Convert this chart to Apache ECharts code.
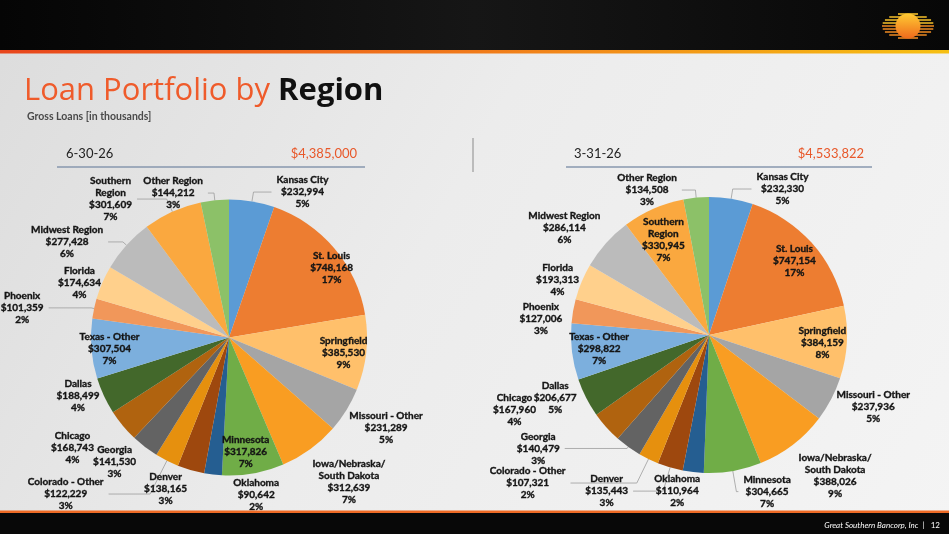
<!DOCTYPE html>
<html><head><meta charset="utf-8">
<script src="https://cdn.jsdelivr.net/npm/echarts@6/dist/echarts.min.js"></script>
<style>html,body{margin:0;padding:0;width:949px;height:534px;overflow:hidden}#c{width:949px;height:534px}</style>
</head><body><div id="c"></div>
<script>
// ---- data ----
const categories = ['Kansas City','St. Louis','Springfield','Missouri - Other','Iowa/Nebraska/South Dakota','Minnesota','Oklahoma','Denver','Colorado - Other','Georgia','Chicago','Dallas','Texas - Other','Phoenix','Florida','Midwest Region','Southern Region','Other Region'];
const loansJun26 = [232994,748168,385530,231289,312639,317826,90642,138165,122229,141530,168743,188499,307504,101359,174634,277428,301609,144212];
const loansMar26 = [232330,747154,384159,237936,388026,304665,110964,135443,107321,140479,167960,206677,298822,127006,193313,286114,330945,134508];
const pctJun26 = [5,17,9,5,7,7,2,3,3,3,4,4,7,2,4,6,7,3];
const pctMar26 = [5,17,8,5,9,7,2,3,2,3,4,5,7,3,4,6,7,3];
const periods = ['6-30-26','3-31-26'];

// ---- styles ----
const sliceColors = ['#5B9BD5','#ED7D31','#FFC06B','#A5A5A5','#F99D22','#70AD47','#255E91','#9E480E','#E6900E','#636363','#B0630F','#43682B','#7CAFDD','#F1975A','#FFD08C','#BBBBBB','#FAA83F','#8CC168'];
const labelWrap = {'Iowa/Nebraska/South Dakota':'Iowa/Nebraska/\nSouth Dakota','Southern Region':'Southern\nRegion'};
// label guide per slice: [length, length2, show line]
const guideJun = [[9.5,18,1],[-30.5,-6,0],[0.5,-52,0],[34,-31,0],[40.7,-26.5,0],[-21.7,-32.4,0],[20.6,-73.5,0],[19.7,-6.7,0],[37.3,41.5,1],[19.2,-7.9,0],[34.9,-3,0],[0.5,-1,0],[0.5,-53.5,0],[3,42.5,1],[0.5,-4,0],[4.8,14.8,1],[13.8,29.7,1],[7.2,6.1,1]];
const guideMar = [[9.9,18.8,1],[-27.2,-23.5,0],[0.5,-53.8,0],[16.8,-14.5,0],[39.4,-23.2,0],[21,2,1],[19.1,-14.1,0],[24.7,30.1,1],[26.7,66.3,1],[2,62.3,1],[-25.5,84.3,0],[0.5,4,0],[-23,-39.2,0],[-45,50,0],[5.2,-7.2,0],[22.9,-16.6,0],[-34.2,-22.8,0],[7.6,13.6,1]];

const FONT = 'Lato, "Open Sans", "DejaVu Sans", sans-serif';
const TFONT = '"Open Sans", Lato, "DejaVu Sans", sans-serif';
const fmt = n => n.toLocaleString('en-US');
const sum = a => a.reduce((s, v) => s + v, 0);

function pieSeries(values, pcts, guides, center) {
  return {
    type: 'pie', center: center, radius: 138, startAngle: 90, clockwise: true,
    avoidLabelOverlap: false, silent: true, animation: false, z: 5,
    itemStyle: { borderWidth: 0 },
    emphasis: { disabled: true },
    labelLayout: { hideOverlap: false, moveOverlap: null },
    label: {
      show: true, position: 'outside', alignTo: 'none', distanceToLabelLine: 5, overflow: 'none',
      formatter: function (p) {
        const nm = labelWrap[p.name] || p.name;
        const lines = nm.split('\n').concat(['$' + fmt(p.value), pcts[p.dataIndex] + '%']);
        return lines.map(l => '{c|' + l + '}').join('\n');
      },
      rich: { c: { align: 'center', fontSize: 10, fontWeight: 'bold', fontFamily: FONT, color: '#141414',
        textBorderColor: '#141414', textBorderWidth: 0.35, lineHeight: 12 } }
    },
    labelLine: { show: true, smooth: false, lineStyle: { color: '#9d9d9d', width: 0.8 } },
    data: categories.map((name, i) => ({
      name: name, value: values[i], itemStyle: { color: sliceColors[i] },
      labelLine: { show: !!guides[i][2], length: guides[i][0], length2: guides[i][1] }
    }))
  };
}

// logo stripes
const logo = [];
const lcx = 908, lcy = 26, la = 26, lb = 13;
for (let y = lcy - 12; y <= lcy + 12; y += 3) {
  const dy = y - lcy;
  const hw = la * Math.sqrt(Math.max(0, 1 - (dy / lb) * (dy / lb)));
  const t = (y - (lcy - 12)) / 24;
  logo.push({ type: 'rect', shape: { x: lcx - hw, y: y - 0.8, width: hw * 2, height: 1.6 },
    style: { fill: t < 0.5 ? '#F6C02A' : '#EE8A22' }, z: 60 });
}
logo.push({ type: 'circle', shape: { cx: lcx, cy: lcy, r: 12.5 }, z: 61,
  style: { fill: { type: 'linear', x: 0, y: 0, x2: 0, y2: 1, colorStops: [{ offset: 0, color: '#FFCB33' }, { offset: 1, color: '#EF6A1C' }] } } });

const option = {
  backgroundColor: { type: 'linear', x: 0, y: 0, x2: 1, y2: 1, colorStops: [
    { offset: 0, color: '#dcdcdc' }, { offset: 0.45, color: '#ececec' }, { offset: 1, color: '#f4f4f4' }] },
  animation: false,
  graphic: [
    { type: 'rect', shape: { x: 0, y: 0, width: 949, height: 51 }, z: 50,
      style: { fill: { type: 'linear', x: 0, y: 0, x2: 1, y2: 0, colorStops: [{ offset: 0, color: '#050505' }, { offset: 0.5, color: '#161616' }, { offset: 1, color: '#070707' }] } } },
    { type: 'rect', shape: { x: 0, y: 50, width: 949, height: 3.5 }, z: 51,
      style: { fill: { type: 'linear', x: 0, y: 0, x2: 1, y2: 0, colorStops: [{ offset: 0, color: '#E8461C' }, { offset: 0.5, color: '#F07A1A' }, { offset: 1, color: '#F6C013' }] } } },
    { type: 'rect', shape: { x: 0, y: 510.5, width: 949, height: 2.5 }, z: 51, style: { fill: '#EE6A25' } },
    { type: 'rect', shape: { x: 0, y: 513, width: 949, height: 21 }, z: 50, style: { fill: '#080808' } },
    { type: 'text', x: 940, y: 525, z: 52, style: { text: '{a|Great Southern Bancorp, Inc}{b|  |   12}', align: 'right', verticalAlign: 'middle',
        rich: { a: { fontStyle: 'italic', fontSize: 8, fontFamily: FONT, fill: '#ffffff' }, b: { fontSize: 8, fontFamily: FONT, fill: '#ffffff' } } } },
    { type: 'text', x: 24, y: 91, z: 52, style: { text: '{a|Loan Portfolio by }{b|Region}', verticalAlign: 'middle',
        rich: { a: { fontSize: 31, fontWeight: 'normal', fontFamily: TFONT, fill: '#EF5B2B' }, b: { fontSize: 31, fontWeight: 'bold', fontFamily: TFONT, fill: '#111111' } } } },
    { type: 'text', x: 27, y: 117, z: 52, style: { text: 'Gross Loans [in thousands]', verticalAlign: 'middle', fontSize: 10.5, fontWeight: 'bold', fontFamily: FONT, fill: '#4a4a4a' } },
    { type: 'text', x: 66, y: 154, z: 52, style: { text: periods[0], verticalAlign: 'middle', fontSize: 13, fontFamily: FONT, fill: '#222222' } },
    { type: 'text', x: 357, y: 154, z: 52, style: { text: '$' + fmt(sum(loansJun26)), align: 'right', verticalAlign: 'middle', fontSize: 13, fontFamily: FONT, fill: '#E8582A' } },
    { type: 'text', x: 574, y: 154, z: 52, style: { text: periods[1], verticalAlign: 'middle', fontSize: 13, fontFamily: FONT, fill: '#222222' } },
    { type: 'text', x: 864, y: 154, z: 52, style: { text: '$' + fmt(sum(loansMar26)), align: 'right', verticalAlign: 'middle', fontSize: 13, fontFamily: FONT, fill: '#E8582A' } },
    { type: 'line', shape: { x1: 57, y1: 167, x2: 365, y2: 167 }, z: 52, style: { stroke: '#8797AE', lineWidth: 1.5 } },
    { type: 'line', shape: { x1: 566, y1: 167, x2: 872, y2: 167 }, z: 52, style: { stroke: '#8797AE', lineWidth: 1.5 } },
    { type: 'line', shape: { x1: 473, y1: 138, x2: 473, y2: 172 }, z: 52, style: { stroke: '#8a8a8a', lineWidth: 1 } }
  ].concat(logo),
  series: [
    pieSeries(loansJun26, pctJun26, guideJun, [229, 337.5]),
    pieSeries(loansMar26, pctMar26, guideMar, [709, 335])
  ]
};
const chart = echarts.init(document.getElementById('c'));
chart.setOption(option);
</script></body></html>
